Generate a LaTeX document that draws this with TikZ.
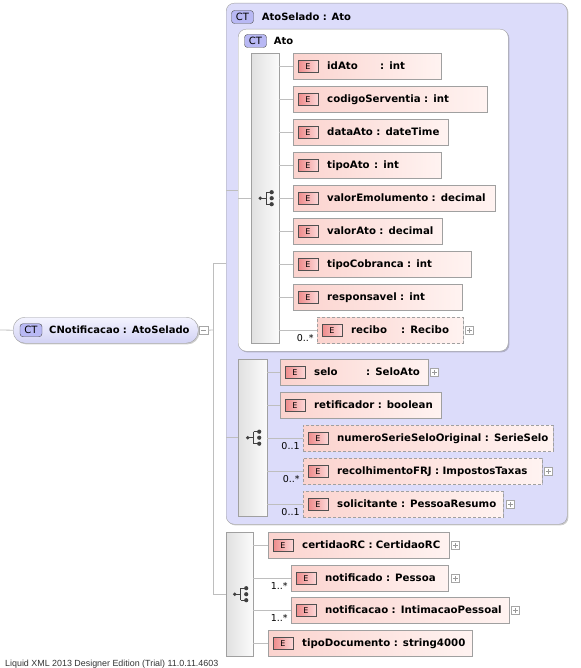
\documentclass[tikz,border=0pt]{standalone}
\usepackage{fontspec}
\setmainfont{DejaVu Sans}
\newfontfamily\footfont{Liberation Sans}
\usetikzlibrary{positioning,shadows}

\definecolor{boxline}{HTML}{A0A0A0}
\definecolor{ctfill}{HTML}{DCDCFA}
\definecolor{ctbadgefill}{HTML}{B8B8F4}
\definecolor{badgeline}{HTML}{505050}
\definecolor{elemL}{HTML}{FBD3CE}
\definecolor{elemR}{HTML}{FFF3F1}
\definecolor{ebL}{HTML}{EE8A8A}
\definecolor{ebR}{HTML}{FDD8D8}
\definecolor{rootT}{HTML}{F4F4FF}
\definecolor{rootB}{HTML}{D2D2F4}
\definecolor{wirecol}{HTML}{BEBEBE}
\definecolor{iconcol}{HTML}{404040}

\tikzset{
  softshadow/.style={drop shadow={shadow xshift=1.2pt,shadow yshift=-1.2pt,opacity=.2,fill=black}},
  ctbox/.style={draw=boxline,fill=ctfill,rounded corners=8pt,anchor=north west,inner sep=0pt,softshadow},
  atobox/.style={draw=boxline,fill=white,rounded corners=8pt,anchor=north west,inner sep=0pt,softshadow},
  seqbar/.style={draw=boxline,left color=gray!24,right color=gray!3,anchor=north west,inner sep=0pt,softshadow},
  ctbadge/.style={draw=badgeline,fill=ctbadgefill,rounded corners=3pt,minimum width=22pt,minimum height=13pt,
    inner sep=0pt,font=\mdseries\fontsize{10}{10}\selectfont,text height=7pt,text depth=0pt},
  cttitle/.style={inner sep=0pt,font=\bfseries,text height=7.3pt,text depth=0pt},
  ebadge/.style={draw=badgeline,left color=ebL,right color=ebR,minimum width=20pt,minimum height=12pt,
    inner sep=0pt,font=\mdseries\fontsize{8}{8}\selectfont,text height=5.8pt,text depth=0pt},
  elem/.style={draw=boxline,left color=elemL,right color=elemR,anchor=north west,minimum height=26pt,
    text width=#1pt,inner xsep=0pt,inner ysep=0pt,align=left,font=\bfseries\fontsize{10.2}{12}\selectfont,
    text height=7.3pt,text depth=0pt,execute at begin node={\noindent\hspace*{34pt}},softshadow,
    append after command={node[ebadge] (\tikzlastnode-E) at ([xshift=15pt]\tikzlastnode.west) {E}}},
  optelem/.style={elem=#1,dash pattern=on 3pt off 2pt},
  rootbox/.style={draw=gray!75,top color=rootT,bottom color=rootB,rounded corners=12pt,anchor=north west,
    minimum height=26pt,text width=185pt,inner xsep=0pt,inner ysep=0pt,align=left,font=\bfseries,
    text height=7.3pt,text depth=0pt,execute at begin node={\noindent\hspace*{36pt}},softshadow,
    append after command={node[ctbadge] (\tikzlastnode-CT) at ([xshift=18pt]\tikzlastnode.west) {CT}}},
  plusbox/.style={draw=gray!70,fill=white,minimum size=8pt,inner sep=0pt,
    path picture={\draw[gray!80,line width=.6pt]
      ([xshift=-2.5pt]path picture bounding box.center) -- ([xshift=2.5pt]path picture bounding box.center)
      ([yshift=-2.5pt]path picture bounding box.center) -- ([yshift=2.5pt]path picture bounding box.center);}},
  minusbox/.style={draw=gray!70,fill=white,minimum size=8.5pt,inner sep=0pt,
    path picture={\draw[gray!80,line width=.6pt]
      ([xshift=-2.5pt]path picture bounding box.center) -- ([xshift=2.5pt]path picture bounding box.center);}},
  wire/.style={draw=wirecol,line width=.8pt},
  mult/.style={anchor=base east,xshift=-3pt,yshift=-11pt,inner sep=0pt,font=\fontsize{9.5}{10}\selectfont},
  footer/.style={anchor=base west,inner sep=0pt,font=\footfont\fontsize{8.9}{10}\selectfont,text=black!80},
  seqicon/.pic={
    \draw[iconcol,line width=.8pt] (-5,0) -- (1,0) (1,-6) -- (1,6) (1,-6) -- (6.5,-6) (1,6) -- (6.5,6);
    \fill[iconcol] (-5,0) circle[radius=1.9pt] (6.5,-6) circle[radius=2.1pt]
      (6.5,0) circle[radius=2.1pt] (6.5,6) circle[radius=2.1pt];
  }
}

\begin{document}
\begin{tikzpicture}[x=1pt,y=-1pt]
\useasboundingbox (0,0) rectangle (580,668);

% complex types
\node[ctbox,minimum width=341pt,minimum height=521pt] (atoSelado) at (226,3) {};
\node[ctbadge] (atoSeladoCT) at (242.5,17) {CT};
\node[cttitle,right=8pt of atoSeladoCT] (atoSeladoTitle) {AtoSelado : Ato};
\node[atobox,minimum width=270pt,minimum height=322pt] (ato) at (238,29) {};
\node[ctbadge] (atoCT) at (255.5,41) {CT};
\node[cttitle,right=7pt of atoCT] (atoTitle) {Ato};

% sequences
\node[seqbar,minimum width=28pt,minimum height=290pt] (seqA) at (251,53) {};
\pic at (seqA.center) {seqicon};
\node[seqbar,minimum width=29pt,minimum height=157pt] (seqB) at (238,359) {};
\pic at (seqB.center) {seqicon};
\node[seqbar,minimum width=27pt,minimum height=124pt] (seqC) at (226,532) {};
\pic at (seqC.center) {seqicon};

% Ato
\node[elem=148] (idAto) at (293,53) {\makebox[53pt][l]{idAto}: int};
\node[elem=194] (codigoServentia) at (293,86) {codigoServentia : int};
\node[elem=155] (dataAto) at (293,119) {dataAto : dateTime};
\node[elem=148] (tipoAto) at (293,152) {\makebox[47pt][l]{tipoAto}: int};
\node[elem=202] (valorEmolumento) at (293,185) {valorEmolumento : decimal};
\node[elem=149] (valorAto) at (293,218) {valorAto : decimal};
\node[elem=178] (tipoCobranca) at (293,251) {tipoCobranca : int};
\node[elem=169] (responsavel) at (293,284) {responsavel : int};
\node[optelem=146] (recibo) at (317,317) {\makebox[50pt][l]{recibo}: Recibo};
\node[plusbox,right=2pt of recibo] (reciboPlus) {};

% AtoSelado
\node[elem=148] (selo) at (280,359) {\makebox[52pt][l]{selo}: SeloAto};
\node[plusbox,right=2pt of selo] (seloPlus) {};
\node[elem=161] (retificador) at (280,392) {retificador : boolean};
\node[optelem=250] (numeroSerie) at (303,425) {numeroSerieSeloOriginal : SerieSelo};
\node[optelem=239] (recolhimento) at (303,458) {recolhimentoFRJ : ImpostosTaxas};
\node[plusbox,right=2pt of recolhimento] (recolhimentoPlus) {};
\node[optelem=200] (solicitante) at (303,491) {solicitante : PessoaResumo};
\node[plusbox,right=3pt of solicitante] (solicitantePlus) {};

% CNotificacao
\node[elem=181] (certidaoRC) at (268,532) {certidaoRC : CertidaoRC};
\node[plusbox,right=2pt of certidaoRC] (certidaoRCPlus) {};
\node[elem=157] (notificado) at (291,565) {notificado : Pessoa};
\node[plusbox,right=3pt of notificado] (notificadoPlus) {};
\node[elem=218] (notificacao) at (291,597) {notificacao : IntimacaoPessoal};
\node[plusbox,right=2pt of notificacao] (notificacaoPlus) {};
\node[elem=204] (tipoDocumento) at (268,630) {tipoDocumento : string4000};

\node[rootbox] (root) at (13,317) {CNotificacao : AtoSelado};
\node[minusbox,right=1pt of root] (rootMinus) {};
\coordinate (rootIn) at (0,330);
\coordinate (trunk) at (213,330);

% connectors
\draw[wire] (rootIn) -- (root.west);
\draw[wire] (rootMinus.east) -- (trunk);
\draw[wire] (trunk |- atoSelado.west) -- (atoSelado.west);
\draw[wire] (trunk |- atoSelado.west) -- (trunk |- seqC.west) -- (seqC.west);
\draw[wire] (atoSelado.west |- ato.west) -- (ato.west);
\draw[wire] (atoSelado.west |- seqB.west) -- (seqB.west);
\draw[wire] (ato.west |- seqA.west) -- (seqA.west);

\draw[wire] (seqA.east |- idAto.west) -- (idAto.west);
\draw[wire] (seqA.east |- codigoServentia.west) -- (codigoServentia.west);
\draw[wire] (seqA.east |- dataAto.west) -- (dataAto.west);
\draw[wire] (seqA.east |- tipoAto.west) -- (tipoAto.west);
\draw[wire] (seqA.east |- valorEmolumento.west) -- (valorEmolumento.west);
\draw[wire] (seqA.east |- valorAto.west) -- (valorAto.west);
\draw[wire] (seqA.east |- tipoCobranca.west) -- (tipoCobranca.west);
\draw[wire] (seqA.east |- responsavel.west) -- (responsavel.west);
\draw[wire] (seqA.east |- recibo.west) -- (recibo.west)
	node[mult] (reciboMult) {0..*};

\draw[wire] (seqB.east |- selo.west) -- (selo.west);
\draw[wire] (seqB.east |- retificador.west) -- (retificador.west);
\draw[wire] (seqB.east |- numeroSerie.west) -- (numeroSerie.west)
	node[mult] (numeroSerieMult) {0..1};
\draw[wire] (seqB.east |- recolhimento.west) -- (recolhimento.west)
	node[mult] (recolhimentoMult) {0..*};
\draw[wire] (seqB.east |- solicitante.west) -- (solicitante.west)
	node[mult] (solicitanteMult) {0..1};

\draw[wire] (seqC.east |- certidaoRC.west) -- (certidaoRC.west);
\draw[wire] (seqC.east |- notificado.west) -- (notificado.west)
	node[mult] (notificadoMult) {1..*};
\draw[wire] (seqC.east |- notificacao.west) -- (notificacao.west)
	node[mult] (notificacaoMult) {1..*};
\draw[wire] (seqC.east |- tipoDocumento.west) -- (tipoDocumento.west);

\node[footer] (footer) at (5,666) {Liquid XML 2013 Designer Edition (Trial) 11.0.11.4603};
\end{tikzpicture}
\end{document}
